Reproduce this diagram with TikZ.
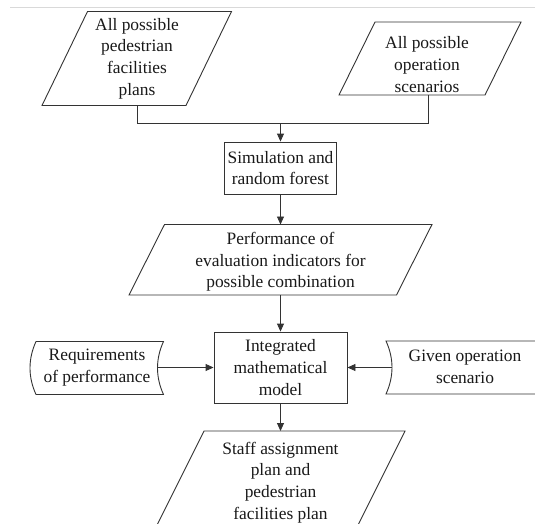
\documentclass[tikz,border=0pt]{standalone}
\usepackage{fontspec}
\setmainfont{Liberation Serif}
\usetikzlibrary{arrows.meta}
\begin{document}
\begin{tikzpicture}[x=1pt,y=-1pt,
  shapeline/.style={draw=black!80, line width=0.9pt, line join=miter},
  conn/.style={draw=black!80, line width=0.9pt},
  arr/.style={conn, -{Triangle[length=8pt,width=7pt]}},
  txt/.style={align=center, font=\fontsize{17.4}{21.6}\selectfont, inner sep=0pt, text=black!90},
  box/.style={shapeline, txt, rectangle}]
\useasboundingbox (0,0) rectangle (535,523);
\clip (0,0) rectangle (535,523);
\fill[white] (0,0) rectangle (535,523);
\draw[black!15, line width=0.8pt] (10,7.3) -- (535,7.3);

% input 1
\draw[shapeline] (87.5,11.5) -- (231.5,11.5) -- (186,105.5) -- (42,105.5) -- cycle;
\node[txt] (p1) at (137,58.6) {All possible\\pedestrian\\facilities\\plans};
\coordinate (p1s) at (137,105.5);

% input 2
\draw[shapeline] (375,22) -- (521,22) -- (485,95) -- (339,95) -- cycle;
\node[txt] (p2) at (427,64.5) {All possible\\operation\\scenarios};
\coordinate (p2s) at (428,95);

% join
\coordinate (j) at (280.5,123.5);
\draw[conn] (p1s) |- (j) -| (p2s);

% simulation
\node[box, minimum width=112pt, minimum height=52pt] (sim) at (280.5,168) {Simulation and\\random forest};
\draw[arr] (j) -- (sim.north);

% performance
\draw[shapeline] (164.5,224.5) -- (432,224.5) -- (396.5,295) -- (129,295) -- cycle;
\node[txt] (p3) at (280.5,262) {Performance of\\evaluation indicators for\\possible combination};
\coordinate (p3n) at (280.5,224.5);
\coordinate (p3s) at (280.5,295);
\draw[arr] (sim.south) -- (p3n);

% integrated model
\node[box, minimum width=133pt, minimum height=71pt] (im) at (280.5,367.5) {Integrated\\mathematical\\model};
\draw[arr] (p3s) -- (im.north);

% requirements
\draw[shapeline] (36,341.5) .. controls (28,359) and (28,377) .. (36,394.5) -- (163.5,394.5) .. controls (155.5,377) and (155.5,359) .. (163.5,341.5) -- cycle;
\node[txt] (req) at (97,367.8) {Requirements\\of performance};
\coordinate (reqe) at (157.5,367.5);
\draw[arr] (reqe) -- (reqe -| im.west);

% given scenario
\draw[shapeline] (386,341) .. controls (394,358.7) and (394,376.3) .. (386,394) -- (545,394) -- (545,341) -- cycle;
\node[txt] (giv) at (465,367) {Given operation\\scenario};
\coordinate (give) at (392,367.5);
\draw[arr] (give) -- (give -| im.east);

% output
\draw[shapeline] (148,543) -- (204,431) -- (405,431) -- (349,543);
\node[txt] (p4) at (280.5,482.5) {Staff assignment\\plan and\\pedestrian\\facilities plan};
\coordinate (p4n) at (280.5,431);
\draw[arr] (im.south) -- (p4n);
\end{tikzpicture}
\end{document}
